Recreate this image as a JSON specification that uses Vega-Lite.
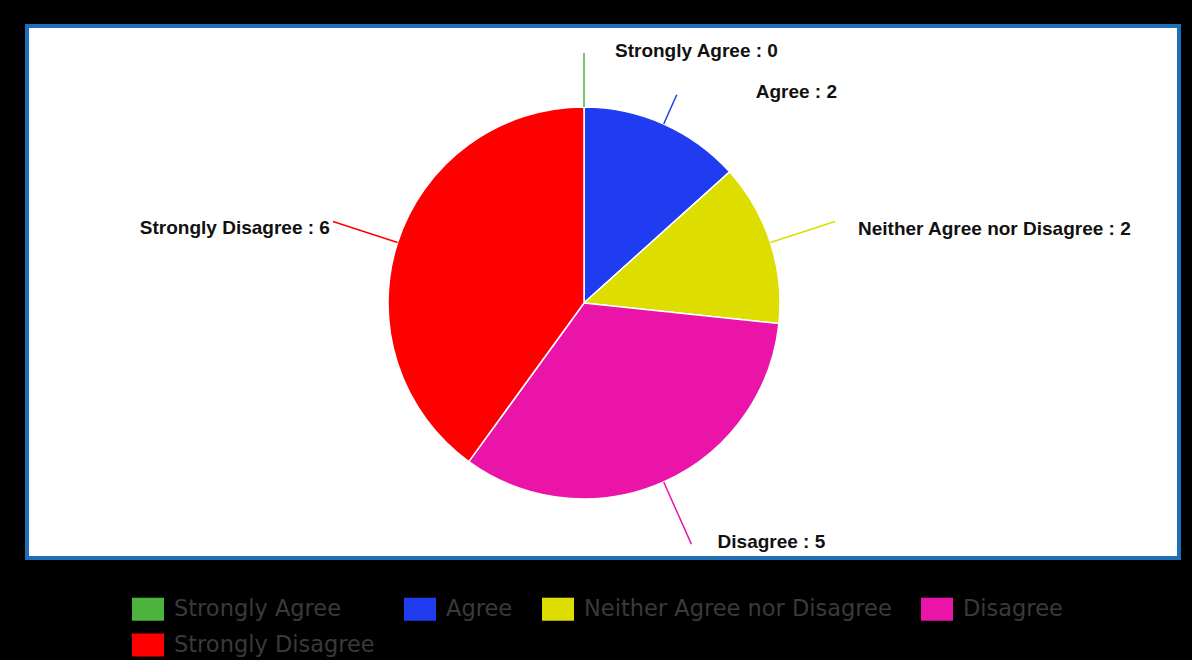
{
  "$schema": "https://vega.github.io/schema/vega-lite/v6.json",
  "width": 1152,
  "height": 532,
  "background": "black",
  "padding": {"left": 25, "top": 24, "right": 15, "bottom": 12},
  "autosize": {"type": "pad"},
  "view": {"fill": "white", "stroke": "#1f6fb8", "strokeWidth": 4},
  "config": {
    "text": {"font": "Liberation Sans", "fontWeight": "bold", "fontSize": 19, "fill": "#111111", "baseline": "middle"}
  },
  "data": {
    "values": [
      {"category": "Strongly Agree", "value": 0},
      {"category": "Agree", "value": 2},
      {"category": "Neither Agree nor Disagree", "value": 2},
      {"category": "Disagree", "value": 5},
      {"category": "Strongly Disagree", "value": 6}
    ]
  },
  "transform": [
    {"stack": "value", "groupby": [], "as": ["v0", "v1"]},
    {"calculate": "(datum.v0 + datum.v1) / 2", "as": "mid"},
    {"calculate": "datum.category + ' : ' + datum.value", "as": "label"}
  ],
  "layer": [
    {
      "transform": [{"filter": "datum.category == 'Strongly Agree'"}],
      "mark": {"type": "rect", "fill": "white", "stroke": "#1f6fb8", "strokeWidth": 4},
      "encoding": {}
    },
    {
      "mark": {"type": "arc", "outerRadius": 196, "stroke": "white", "strokeWidth": 1.5, "xOffset": -19, "yOffset": 11},
      "encoding": {
        "theta": {"field": "v0", "type": "quantitative", "stack": null, "scale": {"domain": [0, 15], "nice": false, "zero": true}},
        "theta2": {"field": "v1"},
        "color": {
          "field": "category",
          "type": "nominal",
          "scale": {
            "domain": ["Strongly Agree", "Agree", "Neither Agree nor Disagree", "Disagree", "Strongly Disagree"],
            "range": ["#4cb43c", "#1f3cf0", "#dddd00", "#ea15a8", "#ff0000"]
          },
          "legend": {
            "title": null,
            "orient": "none",
            "legendX": 105,
            "legendY": 567,
            "direction": "horizontal",
            "columns": 4,
            "columnPadding": 29,
            "rowPadding": 8,
            "symbolType": "M-1,-0.72H1V0.72H-1Z",
            "symbolSize": 1024,
            "symbolStrokeWidth": 0,
            "symbolOpacity": 1,
            "labelFont": "DejaVu Sans",
            "labelFontSize": 22.5,
            "labelColor": "#3a3a3a",
            "labelOffset": 10,
            "labelLimit": 500
          }
        }
      }
    },
    {
      "transform": [{"filter": "datum.category == 'Neither Agree nor Disagree' || datum.category == 'Disagree' || datum.category == 'Strongly Disagree'"}],
      "mark": {"type": "arc", "filled": false, "innerRadius": 196, "outerRadius": 264, "strokeWidth": 1.5, "xOffset": -19, "yOffset": 11},
      "encoding": {
        "theta": {"field": "mid", "type": "quantitative", "stack": null},
        "theta2": {"field": "mid"},
        "color": {"field": "category", "type": "nominal", "legend": null}
      }
    },
    {
      "transform": [{"filter": "datum.category == 'Strongly Agree'"}],
      "mark": {"type": "arc", "filled": false, "innerRadius": 196, "outerRadius": 250, "strokeWidth": 1.5, "xOffset": -19, "yOffset": 11},
      "encoding": {
        "theta": {"field": "mid", "type": "quantitative", "stack": null},
        "theta2": {"field": "mid"},
        "color": {"field": "category", "type": "nominal", "legend": null}
      }
    },
    {
      "transform": [{"filter": "datum.category == 'Agree'"}],
      "mark": {"type": "arc", "filled": false, "innerRadius": 196, "outerRadius": 228, "strokeWidth": 1.5, "xOffset": -19, "yOffset": 11},
      "encoding": {
        "theta": {"field": "mid", "type": "quantitative", "stack": null},
        "theta2": {"field": "mid"},
        "color": {"field": "category", "type": "nominal", "legend": null}
      }
    },
    {
      "transform": [{"filter": "datum.category == 'Strongly Agree'"}],
      "mark": {"type": "text", "radius": 252, "align": "left", "dx": 12, "dy": 11},
      "encoding": {
        "theta": {"field": "mid", "type": "quantitative", "stack": null},
        "text": {"field": "label"}
      }
    },
    {
      "transform": [{"filter": "datum.category == 'Agree'"}],
      "mark": {"type": "text", "radius": 228, "align": "left", "dx": 60, "dy": 8},
      "encoding": {
        "theta": {"field": "mid", "type": "quantitative", "stack": null},
        "text": {"field": "label"}
      }
    },
    {
      "transform": [{"filter": "datum.category == 'Neither Agree nor Disagree'"}],
      "mark": {"type": "text", "radius": 266, "align": "left", "dx": 2, "dy": 19},
      "encoding": {
        "theta": {"field": "mid", "type": "quantitative", "stack": null},
        "text": {"field": "label"}
      }
    },
    {
      "transform": [{"filter": "datum.category == 'Disagree'"}],
      "mark": {"type": "text", "radius": 262, "align": "left", "dx": 8, "dy": 11},
      "encoding": {
        "theta": {"field": "mid", "type": "quantitative", "stack": null},
        "text": {"field": "label"}
      }
    },
    {
      "transform": [{"filter": "datum.category == 'Strongly Disagree'"}],
      "mark": {"type": "text", "radius": 264, "align": "right", "dx": -22, "dy": 18},
      "encoding": {
        "theta": {"field": "mid", "type": "quantitative", "stack": null},
        "text": {"field": "label"}
      }
    }
  ]
}
